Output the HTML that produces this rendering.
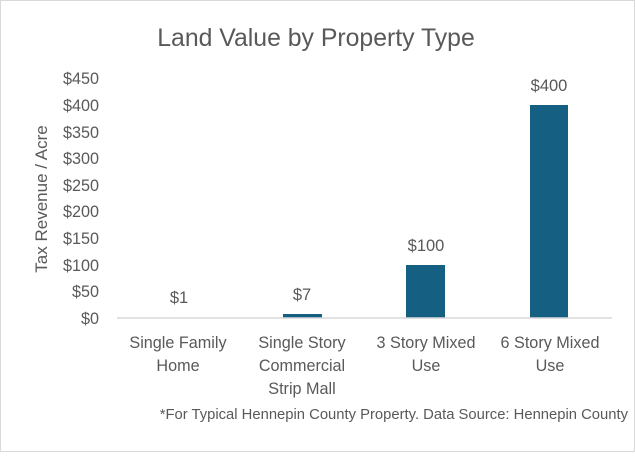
<!DOCTYPE html>
<html><head><style>
body{margin:0;background:#fff}
svg text{font-family:"Liberation Sans",sans-serif;fill:#595959}
</style></head><body>
<svg width="635" height="452" xmlns="http://www.w3.org/2000/svg">
<rect x="0.5" y="0.5" width="634" height="451" fill="#fff" stroke="#d9d9d9"/>
<text x="316" y="46" font-size="24.8" text-anchor="middle">Land Value by Property Type</text>
<g font-size="16.2" text-anchor="end">
<text x="99" y="324">$0</text>
<text x="99" y="297">$50</text>
<text x="99" y="271">$100</text>
<text x="99" y="244">$150</text>
<text x="99" y="217">$200</text>
<text x="99" y="191">$250</text>
<text x="99" y="164">$300</text>
<text x="99" y="138">$350</text>
<text x="99" y="111">$400</text>
<text x="99" y="84">$450</text>
</g>
<text transform="translate(47,199) rotate(-90)" font-size="17" text-anchor="middle">Tax Revenue / Acre</text>
<rect x="283" y="314" width="39" height="4" fill="#156082"/>
<rect x="406" y="265" width="39" height="53" fill="#156082"/>
<rect x="530" y="105" width="38" height="213" fill="#156082"/>
<line x1="117" y1="318" x2="612" y2="318" stroke="#d9d9d9" stroke-width="1.5"/>
<g font-size="16.5" text-anchor="middle">
<text x="179" y="303">$1</text>
<text x="302" y="300">$7</text>
<text x="426" y="251">$100</text>
<text x="549" y="91">$400</text>
</g>
<g font-size="16.2" text-anchor="middle">
<text x="178" y="348">Single Family</text>
<text x="178" y="371">Home</text>
<text x="302" y="348">Single Story</text>
<text x="302" y="371">Commercial</text>
<text x="302" y="394">Strip Mall</text>
<text x="426" y="348">3 Story Mixed</text>
<text x="426" y="371">Use</text>
<text x="550" y="348">6 Story Mixed</text>
<text x="550" y="371">Use</text>
</g>
<text x="628" y="419" font-size="14.8" text-anchor="end">*For Typical Hennepin County Property. Data Source: Hennepin County</text>
</svg>
</body></html>
